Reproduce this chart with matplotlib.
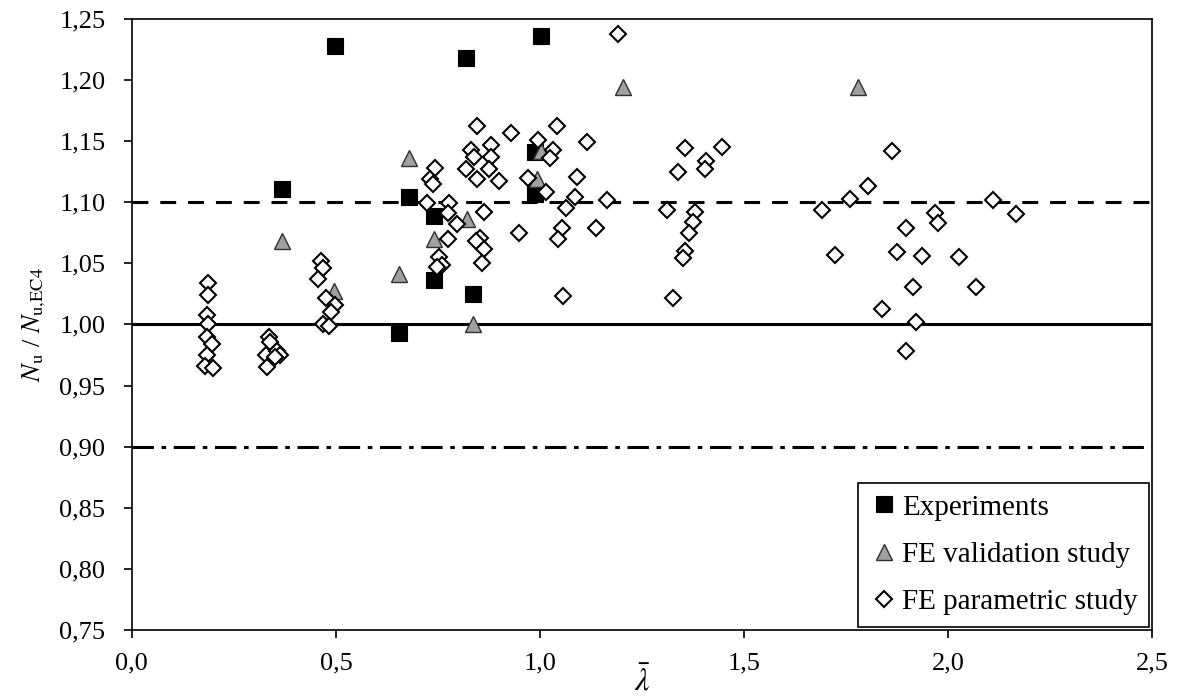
import matplotlib
matplotlib.use('Agg')
import matplotlib.pyplot as plt
from matplotlib.ticker import FuncFormatter, MultipleLocator

plt.rcParams['font.family'] = ['Liberation Serif', 'DejaVu Serif']
plt.rcParams['mathtext.fontset'] = 'stix'

# Experiments
exp_x = [0.498, 0.819, 1.002, 0.368, 0.679, 0.740, 0.740, 0.836, 0.654, 0.988, 0.988]
exp_y = [1.228, 1.218, 1.236, 1.111, 1.104, 1.089, 1.036, 1.025, 0.993, 1.141, 1.107]

# FE validation study
val_x = [0.368, 0.495, 0.654, 0.679, 0.740, 0.821, 0.836, 0.992, 1.002, 1.204, 1.779]
val_y = [1.068, 1.027, 1.041, 1.136, 1.070, 1.086, 1.000, 1.119, 1.142, 1.194, 1.194]

# FE parametric study
par_x = [0.186, 0.186, 0.184, 0.186, 0.184, 0.196, 0.184, 0.179, 0.199,
         0.336, 0.338, 0.328, 0.355, 0.363, 0.350, 0.331,
         0.463, 0.468, 0.456, 0.475, 0.498, 0.488, 0.468, 0.483,
         0.743, 0.730, 0.738, 0.723, 0.777, 0.775, 0.796, 0.775, 0.753, 0.760, 0.748,
         0.846, 0.830, 0.838, 0.819, 0.846, 0.880, 0.880, 0.875, 0.900, 0.929,
         0.863, 0.853, 0.863, 0.858, 0.843, 0.949,
         0.995, 1.032, 1.025, 1.042, 0.971, 1.015, 1.091, 1.115, 1.086, 1.064,
         1.054, 1.044, 1.137, 1.164, 1.191, 1.056,
         1.311, 1.326, 1.355, 1.446, 1.338, 1.407, 1.404, 1.380, 1.375, 1.366,
         1.355, 1.351,
         1.691, 1.760, 1.804, 1.863, 1.723, 1.838,
         2.110, 2.167, 1.968, 1.976, 1.897, 1.875, 1.936, 2.027, 1.914, 2.069,
         1.922, 1.897]
par_y = [1.034, 1.024, 1.008, 1.000, 0.990, 0.984, 0.975, 0.966, 0.964,
         0.990, 0.986, 0.975, 0.978, 0.975, 0.973, 0.965,
         1.052, 1.046, 1.037, 1.022, 1.016, 1.010, 1.000, 0.999,
         1.128, 1.119, 1.115, 1.099, 1.099, 1.091, 1.082, 1.070, 1.055, 1.049, 1.047,
         1.162, 1.143, 1.137, 1.127, 1.119, 1.147, 1.137, 1.127, 1.117, 1.157,
         1.092, 1.071, 1.062, 1.050, 1.068, 1.075,
         1.151, 1.143, 1.136, 1.162, 1.120, 1.108, 1.121, 1.149, 1.104, 1.095,
         1.079, 1.070, 1.079, 1.102, 1.238, 1.023,
         1.094, 1.022, 1.144, 1.145, 1.125, 1.134, 1.127, 1.092, 1.084, 1.075,
         1.060, 1.054,
         1.094, 1.103, 1.113, 1.142, 1.057, 1.013,
         1.102, 1.090, 1.091, 1.083, 1.079, 1.059, 1.056, 1.055, 1.031, 1.031,
         1.002, 0.978]

fig = plt.figure(figsize=(11.77, 7.0), dpi=100)
ax = fig.add_axes([0.112, 0.1, 0.867, 0.873])

ax.axhline(1.0, color='black', lw=2.2, zorder=1)
ax.axhline(1.1, color='black', lw=2.2, ls=(0, (5.2, 3.9)), zorder=1)
ax.axhline(0.9, color='black', lw=2.2, ls=(0, (7, 2.5, 1.5, 2.5)), zorder=1)

ax.plot(exp_x, exp_y, ls='none', marker='s', ms=12, mfc='black', mec='black',
        mew=0.8, label='Experiments', zorder=3)
ax.plot(val_x, val_y, ls='none', marker='^', ms=11.5, mfc='#a0a0a0', mec='#303030',
        mew=1.0, label='FE validation study', zorder=4)
ax.plot(par_x, par_y, ls='none', marker='D', ms=7.8, mfc='white', mec='black',
        mew=1.5, label='FE parametric study', zorder=5)

ax.set_xlim(0, 2.5)
ax.set_ylim(0.75, 1.25)
ax.xaxis.set_major_locator(MultipleLocator(0.5))
ax.yaxis.set_major_locator(MultipleLocator(0.05))
ax.xaxis.set_major_formatter(FuncFormatter(lambda v, p: f'{v:.1f}'.replace('.', ',')))
ax.yaxis.set_major_formatter(FuncFormatter(lambda v, p: f'{v:.2f}'.replace('.', ',')))
ax.tick_params(direction='out', length=6, width=1.2, labelsize=19, colors='black')
ax.tick_params(axis='y', pad=13)
ax.tick_params(axis='x', pad=10)
for s in ax.spines.values():
    s.set_linewidth(1.2)

ax.set_xlabel(r'$\bar{\lambda}$', fontsize=23, labelpad=-6)
ax.set_ylabel(r'$N_\mathrm{u}$ / $N_\mathrm{u{,}EC4}$', fontsize=19, labelpad=8)

leg = ax.legend(loc='lower right', fontsize=21, frameon=True, fancybox=False,
                edgecolor='black', framealpha=1, borderaxespad=0.1,
                handlelength=1.0, handletextpad=0.1, labelspacing=0.72,
                borderpad=0.4)
leg.get_frame().set_linewidth(1.2)

fig.savefig('out.png', dpi=100)
